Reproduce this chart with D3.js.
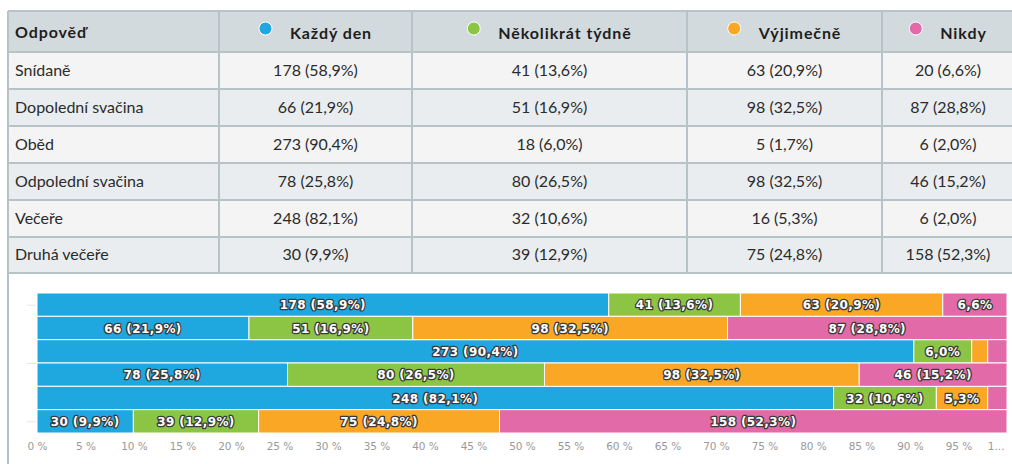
<!DOCTYPE html>
<html>
<head>
<meta charset="utf-8">
<script src="https://cdn.jsdelivr.net/npm/d3@7"></script>
<style>
  body { margin: 0; background: #fff; }
  svg { display: block; }
  .cell { font-family: Lato, "Open Sans", sans-serif; font-size: 16px; fill: #2b2b2b; }
  .head { font-weight: bold; fill: #1e1e1e; letter-spacing: 0.9px; }
  .lbl { font-family: "DejaVu Sans", sans-serif; font-size: 12px; font-weight: bold; fill: #fff;
         stroke: #3a3a3a; stroke-width: 2.6px; paint-order: stroke; stroke-linejoin: round; letter-spacing: 0.4px; }
  .xaxis text { font-family: "DejaVu Sans", sans-serif; font-size: 10.5px; fill: #999; }
</style>
</head>
<body>
<svg></svg>
<script>
var categories = ["Snídaně", "Dopolední svačina", "Oběd", "Odpolední svačina", "Večeře", "Druhá večeře"];
var seriesNames = ["Každý den", "Několikrát týdně", "Výjimečně", "Nikdy"];
var colors = ["#1fa8e0", "#8bc543", "#fba726", "#e26aa8"];
var kazdyDen = [178, 66, 273, 78, 248, 30];
var nekolikrat = [41, 51, 18, 80, 32, 39];
var vyjimecne = [63, 98, 5, 98, 16, 75];
var nikdy = [20, 87, 6, 46, 6, 158];
var xTicks = [0, 5, 10, 15, 20, 25, 30, 35, 40, 45, 50, 55, 60, 65, 70, 75, 80, 85, 90, 95, 100];

var series = [kazdyDen, nekolikrat, vyjimecne, nikdy];
var W = 1012, H = 464;
var svg = d3.select("svg").attr("width", W).attr("height", H);

function fmt(v) { return d3.format(".1f")(v).replace(".", ","); }
var rows = categories.map(function (c, i) {
  var vals = series.map(function (s) { return s[i]; });
  var total = d3.sum(vals);
  var r = { cat: c, total: total };
  seriesNames.forEach(function (n, j) { r[n] = vals[j] / total * 100; r["n" + j] = vals[j]; });
  return r;
});

// ---- table ----
var colEdges = [8, 219, 412, 687, 882, 1014];
var rowEdges = [11, 52, 89, 126, 163, 200, 237, 273];
var table = svg.append("g");

table.append("rect").attr("x", colEdges[0]).attr("y", rowEdges[0])
  .attr("width", colEdges[5] - colEdges[0]).attr("height", rowEdges[1] - rowEdges[0]).attr("fill", "#d3dadd");
table.selectAll(".rowbg").data(rows).enter().append("rect")
  .attr("x", colEdges[0]).attr("y", (d, i) => rowEdges[i + 1])
  .attr("width", colEdges[5] - colEdges[0]).attr("height", (d, i) => rowEdges[i + 2] - rowEdges[i + 1])
  .attr("fill", (d, i) => i % 2 ? "#e9edef" : "#f4f4f4");

// grid lines
table.selectAll(".hl").data(rowEdges).enter().append("line")
  .attr("x1", colEdges[0]).attr("x2", colEdges[5]).attr("y1", d => d).attr("y2", d => d)
  .attr("stroke", "#b6c3c7").attr("stroke-width", 2);
table.selectAll(".vl").data(colEdges.slice(1, 5)).enter().append("line")
  .attr("x1", d => d).attr("x2", d => d).attr("y1", rowEdges[0]).attr("y2", rowEdges[7])
  .attr("stroke", "#b6c3c7").attr("stroke-width", 2);
svg.append("line").attr("x1", colEdges[0]).attr("x2", colEdges[0]).attr("y1", rowEdges[0]).attr("y2", H)
  .attr("stroke", "#b6c3c7").attr("stroke-width", 2);

// header
table.append("text").attr("class", "cell head").attr("x", colEdges[0] + 7)
  .attr("y", (rowEdges[0] + rowEdges[1]) / 2 + 6).text("Odpověď");
seriesNames.forEach(function (n, j) {
  var cx = (colEdges[j + 1] + colEdges[j + 2]) / 2;
  var g = table.append("g");
  var t = g.append("text").attr("class", "cell head").attr("y", (rowEdges[0] + rowEdges[1]) / 2 + 7).text(n);
  var tw = t.node().getComputedTextLength();
  var total = 13 + 18 + tw;
  var x0 = cx - total / 2;
  g.append("circle").attr("cx", x0 + 6.5).attr("cy", (rowEdges[0] + rowEdges[1]) / 2 - 3).attr("r", 6.5)
    .attr("fill", colors[j]).attr("stroke", "#fff").attr("stroke-width", 1);
  t.attr("x", x0 + 31);
});

// body cells
rows.forEach(function (r, i) {
  var y = (rowEdges[i + 1] + rowEdges[i + 2]) / 2 + 5;
  table.append("text").attr("class", "cell").attr("x", colEdges[0] + 7).attr("y", y).text(r.cat);
  seriesNames.forEach(function (n, j) {
    table.append("text").attr("class", "cell").attr("text-anchor", "middle")
      .attr("x", (colEdges[j + 1] + colEdges[j + 2]) / 2).attr("y", y)
      .text(r["n" + j] + " (" + fmt(r[n]) + "%)");
  });
});

// ---- stacked bar chart ----
var m = { left: 37, right: 5, top: 293, bottom: 31 };
var x = d3.scaleLinear().domain([0, 100]).range([m.left, W - m.right]);
var y = d3.scaleBand().domain(d3.range(categories.length)).range([m.top, H - m.bottom]).padding(0);
var yLin = d3.scaleLinear().domain([0, categories.length - 1])
  .range([y(0) + y.bandwidth() / 2, y(categories.length - 1) + y.bandwidth() / 2]);

// y ticks (no labels)
svg.append("g").attr("transform", "translate(" + (m.left - 1) + ",0)")
  .call(d3.axisLeft(yLin).tickValues([0, 2.5, 5]).tickSize(9).tickFormat(""))
  .call(g => g.select(".domain").remove())
  .call(g => g.selectAll("line").attr("stroke", "#dfe5ee"));

var stack = d3.stack().keys(seriesNames)(rows);
var layers = svg.append("g").selectAll("g").data(stack).enter().append("g")
  .attr("fill", (d, j) => colors[j]);
layers.selectAll("rect").data(d => d).enter().append("rect")
  .attr("x", d => x(d[0])).attr("y", (d, i) => y(i))
  .attr("width", d => x(d[1]) - x(d[0])).attr("height", y.bandwidth())
  .attr("stroke", "#fff").attr("stroke-width", 1);

// data labels
var labels = svg.append("g");
stack.forEach(function (layer, j) {
  layer.forEach(function (d, i) {
    var w = x(d[1]) - x(d[0]);
    var full = rows[i]["n" + j] + " (" + fmt(d[1] - d[0]) + "%)";
    var short = fmt(d[1] - d[0]) + "%";
    var t = labels.append("text").attr("class", "lbl").attr("text-anchor", "middle")
      .attr("x", (x(d[0]) + x(d[1])) / 2).attr("y", y(i) + y.bandwidth() / 2 + 4.5).text(full);
    if (t.node().getComputedTextLength() + 8 > w) {
      t.text(short);
      if (t.node().getComputedTextLength() + 8 > w) t.remove();
    }
  });
});

// x axis
svg.append("g").attr("class", "xaxis").attr("transform", "translate(0," + (H - m.bottom) + ")")
  .call(d3.axisBottom(x).tickValues(xTicks).tickSize(0).tickPadding(10).tickFormat(d => d + " %"))
  .call(g => g.select(".domain").remove())
  .call(g => g.selectAll(".tick").filter(d => d === 100).select("text")
    .text("1...").attr("text-anchor", "end").attr("dx", "-3"));
</script>
</body>
</html>
